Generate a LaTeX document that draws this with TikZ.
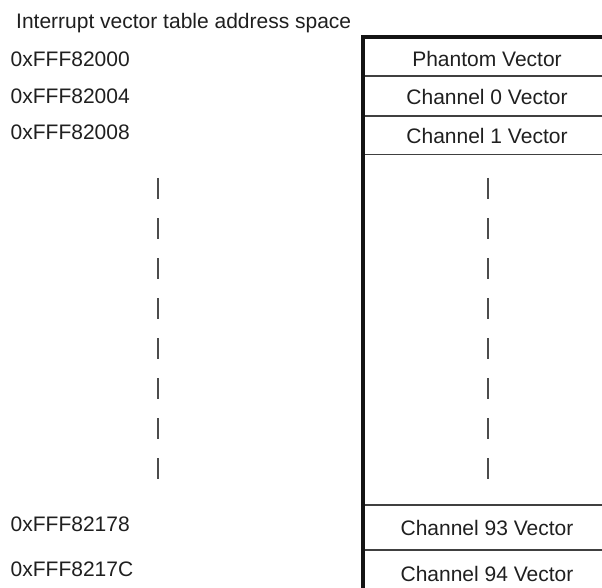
\documentclass[tikz,border=0pt]{standalone}
\usepackage{fontspec}
\setmainfont{Liberation Sans}
\begin{document}
\begin{tikzpicture}[x=1pt,y=-1pt,
  lbl/.style={anchor=base west,inner sep=0pt,text=black!88,font=\fontsize{21}{25}\selectfont},
  vec/.style={anchor=base,inner sep=0pt,text=black!88,font=\fontsize{21}{25}\selectfont},
  sep/.style={draw=black!75,line width=1.2pt},
  border/.style={draw=black!92,line width=3.6pt},
  tick/.style={draw=black!70,line width=1.8pt}]
\useasboundingbox (0,0) rectangle (602,588);
% title
\node[lbl] (title) at (16,28.3) {Interrupt vector table address space};
% addresses
\node[lbl] (a0) at (10.5,67) {0xFFF82000};
\node[lbl] (a1) at (10.5,103.5) {0xFFF82004};
\node[lbl] (a2) at (10.5,140) {0xFFF82008};
\node[lbl] (a93) at (10.5,531.5) {0xFFF82178};
\node[lbl] (a94) at (10.5,576.5) {0xFFF8217C};
% separators
\draw[sep] (363,76) -- (602,76);
\draw[sep] (363,116) -- (602,116);
\draw[sep] (363,154.5) -- (602,154.5);
\draw[sep] (363,505) -- (602,505);
\draw[sep] (363,550) -- (602,550);
% border
\draw[border] (363,588) -- (363,37) -- (602,37);
% vector names
\node[vec] (v0) at (487,67) {Phantom Vector};
\node[vec] (v1) at (487,105) {Channel 0 Vector};
\node[vec] (v2) at (487,144) {Channel 1 Vector};
\node[vec] (v93) at (487,535) {Channel 93 Vector};
\node[vec] (v94) at (487,581.5) {Channel 94 Vector};
% vertical tick marks
\foreach \i in {0,...,7}{
  \draw[tick] (158,178+40*\i) -- (158,199+40*\i);
  \draw[tick] (487.7,178+40*\i) -- (487.7,199+40*\i);
}
\end{tikzpicture}
\end{document}
